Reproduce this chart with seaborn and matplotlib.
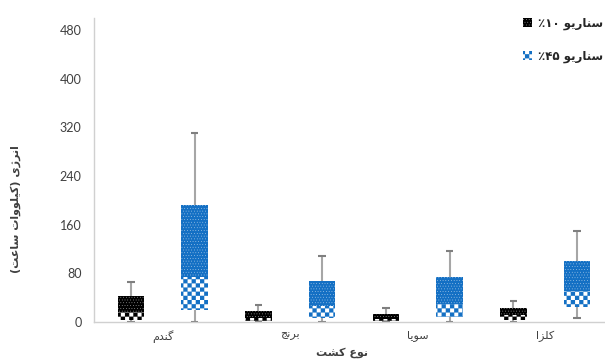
import re
import warnings
import numpy as np
import pandas as pd
import seaborn as sns
import matplotlib.pyplot as plt
import matplotlib.hatch as mhatch
from matplotlib.patches import Patch
from matplotlib.path import Path

warnings.filterwarnings('ignore')

# chart data
crops = ['گندم', 'برنج', 'سویا', 'کلزا']
scenarios = ['سناریو ۱۰٪', 'سناریو ۴۵٪']
y_label = 'انرژی (کیلووات ساعت)'
x_label = 'نوع کشت'
y_ticks = [0, 80, 160, 240, 320, 400, 480]

# box statistics per crop, scenario 10%
min_10 = [0, 0, 0, 0]
q1_10 = [3, 1, 1, 3]
med_10 = [17, 7, 5, 11]
q3_10 = [42, 18, 13, 23]
max_10 = [66, 28, 23, 35]

# box statistics per crop, scenario 45%
min_45 = [0, 0, 0, 7]
q1_45 = [19, 7, 8, 25]
med_45 = [74, 26, 30, 51]
q3_45 = [193, 67, 74, 100]
max_45 = [311, 108, 117, 150]

series_colors = ['#000000', '#1470C4']
whisker_color = '#a6a6a6'
cap_color = '#7f7f7f'

# Persian letters -> (isolated, final, initial, medial) presentation forms
FORMS = {
    'ا': '\uFE8D\uFE8E', 'د': '\uFEA9\uFEAA', 'ر': '\uFEAD\uFEAE',
    'ز': '\uFEAF\uFEB0', 'ژ': '\uFB8A\uFB8B', 'و': '\uFEED\uFEEE',
    'ب': '\uFE8F\uFE90\uFE91\uFE92', 'ت': '\uFE95\uFE96\uFE97\uFE98',
    'ج': '\uFE9D\uFE9E\uFE9F\uFEA0', 'س': '\uFEB1\uFEB2\uFEB3\uFEB4',
    'ش': '\uFEB5\uFEB6\uFEB7\uFEB8', 'ع': '\uFEC9\uFECA\uFECB\uFECC',
    'ک': '\uFB8E\uFB8F\uFB90\uFB91', 'گ': '\uFB92\uFB93\uFB94\uFB95',
    'ل': '\uFEDD\uFEDE\uFEDF\uFEE0', 'م': '\uFEE1\uFEE2\uFEE3\uFEE4',
    'ن': '\uFEE5\uFEE6\uFEE7\uFEE8', 'ی': '\uFBFC\uFBFD\uFBFE\uFBFF',
}
DIGITS = '۰۱۲۳۴۵۶۷۸۹'


def rtl(text):
    """Shape Persian text and put it in visual (left-to-right) order."""
    out = []
    for i, ch in enumerate(text):
        forms = FORMS.get(ch)
        if forms is None:
            out.append({'(': ')', ')': '('}.get(ch, ch))
            continue
        prev = text[i - 1] if i > 0 else ''
        nxt = text[i + 1] if i + 1 < len(text) else ''
        join_prev = len(FORMS.get(prev, '')) == 4
        join_next = len(forms) == 4 and nxt in FORMS
        out.append(forms[int(join_prev) + 2 * int(join_next)])
    runs = re.findall(f'[{DIGITS}]+|[^{DIGITS}]+', ''.join(out))
    return ''.join(r if r[0] in DIGITS else r[::-1] for r in reversed(runs))


class CheckerHatch(mhatch.HatchPatternBase):
    """Checkerboard fill, selected with the letter 'c' in a hatch string."""

    def __init__(self, hatch, density):
        self.n = 12 * hatch.count('c')
        self.num_vertices = 5 * self.n * self.n // 2

    def set_vertices_and_codes(self, vertices, codes):
        s = 1.0 / self.n
        cells = [(i, j) for i in range(self.n) for j in range(self.n) if (i + j) % 2 == 0]
        square = np.array([[0, 0], [1, 0], [1, 1], [0, 1], [0, 0]], dtype=float)
        vertices[:] = np.concatenate([(square + c) * s for c in cells])
        codes[:] = np.tile([Path.MOVETO, Path.LINETO, Path.LINETO, Path.LINETO,
                            Path.CLOSEPOLY], len(cells))


mhatch._hatch_types.append(CheckerHatch)

sns.set_theme(style='white')
plt.rcParams['font.family'] = ['DejaVu Sans']
plt.rcParams['hatch.linewidth'] = 0.1

DOTS = '......'

labels = [rtl(s) for s in scenarios]
df = pd.DataFrame({
    'crop': [rtl(c) for c in crops] * 2,
    'scenario': [labels[0]] * 4 + [labels[1]] * 4,
    'q1': q1_10 + q1_45,
    'med': med_10 + med_45,
    'q3': q3_10 + q3_45,
})

fig = plt.figure(figsize=(6.05, 3.6), dpi=100)
ax = fig.add_axes([94 / 605, 38 / 360, 520 / 605, 304 / 360])

# boxes: dotted Q3 bars, checkered median bars, blank Q1 bars on top
for col, style in [('q3', 'dots'), ('med', 'checker'), ('q1', 'blank')]:
    n_before = len(ax.containers)
    sns.barplot(data=df, x='crop', y=col, hue='scenario', palette=series_colors,
                width=1.0, gap=0.585, errorbar=None, legend=False, ax=ax, zorder=3)
    for bars, color in zip(ax.containers[n_before:], series_colors):
        for bar in bars:
            if style == 'dots':
                bar.set(facecolor=color, edgecolor='white', hatch=DOTS, linewidth=0)
            elif style == 'checker':
                bar.set(facecolor='white', edgecolor=color, hatch='cc', linewidth=0)
            else:
                bar.set(facecolor='white', edgecolor='white', linewidth=0)

# whiskers outside the boxes
cap = 0.03
stats = [(min_10, q1_10, q3_10, max_10), (min_45, q1_45, q3_45, max_45)]
for bars, (lo, q1, q3, hi) in zip(ax.containers[:2], stats):
    xs = np.array([b.get_x() + b.get_width() / 2 for b in bars])
    ax.vlines(xs, q3, hi, color=whisker_color, lw=1.5, zorder=4)
    ax.vlines(xs, lo, q1, color=whisker_color, lw=1.5, zorder=4)
    ax.hlines(hi, xs - cap, xs + cap, color=cap_color, lw=1.5, zorder=4)
    ax.hlines(lo, xs - cap, xs + cap, color=cap_color, lw=1.5, zorder=4)

ax.set_ylim(0, 500)
ax.set_yticks(y_ticks)
ax.tick_params(axis='both', length=0, colors='#404040')
ax.tick_params(axis='y', labelsize=9, pad=9)
ax.tick_params(axis='x', labelsize=8, pad=6)
for t in ax.get_yticklabels():
    t.set_family(['Lato', 'DejaVu Sans'])

for side in ['top', 'right']:
    ax.spines[side].set_visible(False)
for side in ['left', 'bottom']:
    ax.spines[side].set_color('#d0d0d0')
    ax.spines[side].set_linewidth(1)
    ax.spines[side].set_zorder(5)

ax.set_ylabel(rtl(y_label), fontsize=8, fontweight='bold', color='#404040')
ax.yaxis.set_label_coords(-0.14, 0.37)
ax.set_xlabel(rtl(x_label), fontsize=8, fontweight='bold', color='#404040')
ax.xaxis.set_label_coords(0.477, -0.085)

handles = [Patch(facecolor=series_colors[0], edgecolor='white', hatch=DOTS, linewidth=0),
           Patch(facecolor='white', edgecolor=series_colors[1], hatch='cc', linewidth=0)]
fig.legend(handles, labels, loc='upper left', bbox_to_anchor=(512 / 605, 1 - 6 / 360),
           frameon=False, handlelength=0.8, handleheight=0.8, handletextpad=0.5,
           labelspacing=1.7, prop={'size': 8.5, 'weight': 'bold'})

fig.savefig('out.png', dpi=100)
